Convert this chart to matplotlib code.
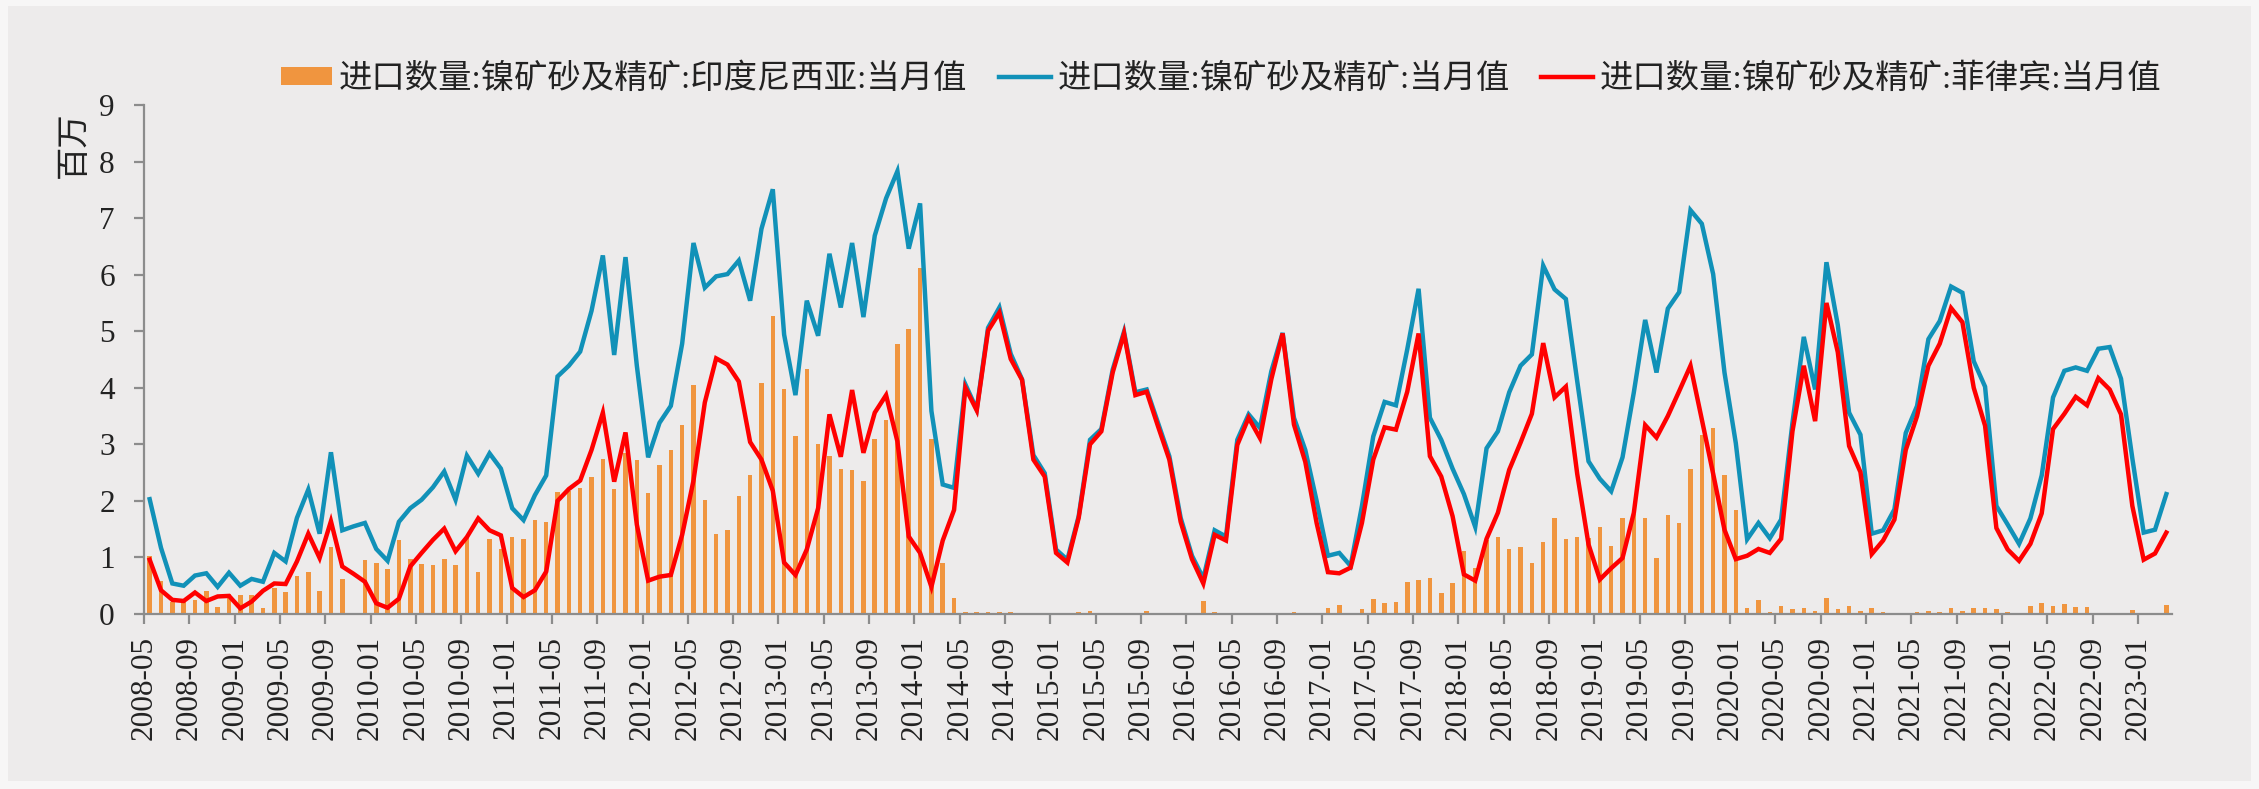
import matplotlib.pyplot as plt
import numpy as np
import pandas as pd
from matplotlib.patches import Rectangle
from matplotlib.lines import Line2D

# 月份：2008-05 ~ 2023-03
months = pd.date_range('2008-05', periods=179, freq='MS').strftime('%Y-%m').tolist()

# 印度尼西亚（柱）
indonesia = [
    1.02, 0.58, 0.21, 0.25, 0.25, 0.41, 0.12, 0.35, 0.34, 0.33, 0.11, 0.46, 0.39, 0.67, 0.75, 0.41,
    1.18, 0.62, 0.00, 0.96, 0.90, 0.79, 1.30, 0.97, 0.89, 0.87, 0.97, 0.87, 1.34, 0.75, 1.33, 1.15,
    1.36, 1.32, 1.66, 1.63, 2.15, 2.18, 2.23, 2.42, 2.74, 2.21, 2.85, 2.73, 2.14, 2.63, 2.90, 3.34,
    4.05, 2.01, 1.42, 1.48, 2.08, 2.46, 4.09, 5.27, 3.98, 3.14, 4.33, 3.00, 2.80, 2.57, 2.55, 2.36,
    3.09, 3.43, 4.78, 5.04, 6.12, 3.09, 0.90, 0.29, 0.03, 0.03, 0.03, 0.03, 0.03, 0.00, 0.02, 0.00,
    0.00, 0.00, 0.03, 0.06, 0.00, 0.00, 0.00, 0.00, 0.06, 0.00, 0.00, 0.00, 0.00, 0.23, 0.03, 0.00,
    0.00, 0.00, 0.00, 0.00, 0.00, 0.03, 0.02, 0.00, 0.11, 0.16, 0.00, 0.08, 0.27, 0.19, 0.22, 0.57,
    0.61, 0.63, 0.38, 0.54, 1.11, 0.82, 1.31, 1.36, 1.15, 1.18, 0.91, 1.27, 1.70, 1.33, 1.37, 1.35,
    1.54, 1.21, 1.70, 1.76, 1.69, 0.99, 1.75, 1.61, 2.56, 3.16, 3.29, 2.46, 1.84, 0.11, 0.24, 0.03,
    0.15, 0.09, 0.10, 0.06, 0.28, 0.09, 0.15, 0.06, 0.10, 0.03, 0.00, 0.00, 0.03, 0.06, 0.03, 0.10,
    0.06, 0.10, 0.11, 0.08, 0.03, 0.00, 0.15, 0.19, 0.15, 0.18, 0.12, 0.13, 0.00, 0.00, 0.00, 0.07,
    0.00, 0.00, 0.16,
]

# 合计（蓝线）
total = [
    2.03, 1.17, 0.54, 0.50, 0.68, 0.72, 0.48, 0.73, 0.50, 0.62, 0.57, 1.08, 0.93, 1.70, 2.20, 1.42,
    2.86, 1.48, 1.55, 1.61, 1.15, 0.94, 1.63, 1.87, 2.02, 2.24, 2.52, 2.02, 2.80, 2.48, 2.84, 2.57,
    1.87, 1.66, 2.10, 2.45, 4.20, 4.39, 4.64, 5.36, 6.34, 4.58, 6.31, 4.39, 2.77, 3.38, 3.68, 4.78,
    6.56, 5.77, 5.97, 6.01, 6.25, 5.54, 6.81, 7.51, 4.94, 3.87, 5.54, 4.92, 6.37, 5.42, 6.56, 5.25,
    6.69, 7.35, 7.83, 6.46, 7.26, 3.59, 2.29, 2.23, 4.06, 3.62, 5.06, 5.42, 4.60, 4.15, 2.81, 2.49,
    1.14, 0.96, 1.73, 3.08, 3.27, 4.32, 4.99, 3.92, 3.97, 3.38, 2.79, 1.70, 1.03, 0.63, 1.48, 1.37,
    3.08, 3.53, 3.29, 4.29, 4.97, 3.47, 2.90, 2.00, 1.03, 1.08, 0.85, 1.91, 3.14, 3.75, 3.69, 4.68,
    5.75, 3.47, 3.08, 2.57, 2.12, 1.54, 2.93, 3.23, 3.92, 4.39, 4.59, 6.16, 5.74, 5.57, 4.12, 2.70,
    2.39, 2.17, 2.77, 3.92, 5.20, 4.27, 5.40, 5.69, 7.14, 6.90, 6.01, 4.27, 3.02, 1.32, 1.61, 1.34,
    1.67, 3.38, 4.90, 3.97, 6.22, 5.11, 3.56, 3.17, 1.42, 1.48, 1.85, 3.20, 3.68, 4.86, 5.18, 5.79,
    5.68, 4.47, 4.02, 1.91, 1.58, 1.24, 1.69, 2.45, 3.83, 4.30, 4.36, 4.30, 4.69, 4.72, 4.16, 2.75,
    1.44, 1.49, 2.12,
]

# 菲律宾（红线）
philippines = [
    0.96, 0.42, 0.25, 0.23, 0.38, 0.23, 0.31, 0.32, 0.10, 0.22, 0.41, 0.54, 0.53, 0.93, 1.42, 0.99,
    1.64, 0.84, 0.71, 0.57, 0.19, 0.11, 0.27, 0.84, 1.08, 1.31, 1.51, 1.11, 1.36, 1.69, 1.48, 1.39,
    0.46, 0.30, 0.42, 0.75, 2.00, 2.21, 2.36, 2.90, 3.56, 2.34, 3.21, 1.58, 0.59, 0.66, 0.69, 1.40,
    2.36, 3.74, 4.52, 4.41, 4.11, 3.04, 2.73, 2.18, 0.91, 0.69, 1.14, 1.87, 3.53, 2.78, 3.96, 2.85,
    3.56, 3.87, 3.05, 1.37, 1.08, 0.48, 1.30, 1.84, 4.00, 3.60, 5.01, 5.33, 4.51, 4.14, 2.73, 2.43,
    1.08, 0.91, 1.70, 3.00, 3.23, 4.27, 4.96, 3.87, 3.93, 3.32, 2.73, 1.63, 0.97, 0.54, 1.40, 1.30,
    2.99, 3.47, 3.11, 4.15, 4.96, 3.35, 2.69, 1.61, 0.74, 0.72, 0.82, 1.61, 2.73, 3.30, 3.26, 3.93,
    4.96, 2.79, 2.43, 1.73, 0.70, 0.59, 1.33, 1.79, 2.55, 3.03, 3.54, 4.79, 3.83, 4.02, 2.48, 1.23,
    0.61, 0.81, 0.99, 1.79, 3.34, 3.12, 3.50, 3.94, 4.39, 3.44, 2.48, 1.49, 0.97, 1.03, 1.15, 1.08,
    1.33, 3.23, 4.39, 3.41, 5.50, 4.63, 2.97, 2.51, 1.06, 1.30, 1.67, 2.90, 3.50, 4.39, 4.78, 5.41,
    5.16, 4.00, 3.33, 1.52, 1.14, 0.94, 1.24, 1.78, 3.27, 3.54, 3.84, 3.69, 4.17, 3.97, 3.53, 1.91,
    0.96, 1.07, 1.44,
]

labels = ['进口数量:镍矿砂及精矿:印度尼西亚:当月值',
          '进口数量:镍矿砂及精矿:当月值',
          '进口数量:镍矿砂及精矿:菲律宾:当月值']

c_bar = '#F0953F'
c_blue = '#1191B8'
c_red = '#FF0000'
c_axis = '#8C8C8C'

plt.rcParams['font.family'] = ['Liberation Serif', 'Noto Sans CJK SC']
fs = 22.5

W, H = 2259, 789
fig = plt.figure(figsize=(W / 100, H / 100), dpi=100, facecolor='#F7F6F6')
fig.patches.append(Rectangle((8 / W, 8 / H), 1 - 16 / W, 1 - 14 / H, transform=fig.transFigure,
                             facecolor='#EDEBEB', edgecolor='none', zorder=-1))

ax = fig.add_axes([144 / W, 1 - 614 / H, (2172 - 144) / W, (614 - 105) / H])
ax.set_facecolor('none')

x = np.arange(len(months))
ax.bar(x, indonesia, width=0.4, color=c_bar, zorder=2)
ax.plot(x, total, color=c_blue, lw=3.2, zorder=3, solid_joinstyle='miter')
ax.plot(x, philippines, color=c_red, lw=3.2, zorder=4, solid_joinstyle='miter')

ax.set_xlim(-0.5, len(months) - 0.5)
ax.set_ylim(0, 9)
ax.set_yticks(range(10))
ax.set_xticks(x[::4] - 0.5)
ax.set_xticklabels(months[::4], rotation=90)

for s in ['top', 'right']:
    ax.spines[s].set_visible(False)
for s in ['left', 'bottom']:
    ax.spines[s].set_color(c_axis)
    ax.spines[s].set_linewidth(1.6)

ax.tick_params(axis='both', direction='out', length=7, width=1.6, color=c_axis,
               labelsize=fs, labelcolor='#222222')
ax.tick_params(axis='y', pad=14)
ax.tick_params(axis='x', pad=9)

fig.text(73 / W, 1 - 145 / H, '百万', rotation=90, ha='center', va='center',
         fontsize=24, color='#222222', family=['Noto Sans CJK SC'])

# 图例
handles = [Rectangle((0, 0), 1, 1, facecolor=c_bar, edgecolor='none'),
           Line2D([], [], color=c_blue, lw=3.2),
           Line2D([], [], color=c_red, lw=3.2)]
fig.legend(handles, labels, loc='center', bbox_to_anchor=(1221 / W, 1 - 79 / H), ncol=3,
           frameon=False, fontsize=24, handlelength=1.55, handleheight=0.45,
           handletextpad=0.2, columnspacing=0.95, labelcolor='#222222')

fig.savefig('out.png', dpi=100, facecolor=fig.get_facecolor())
